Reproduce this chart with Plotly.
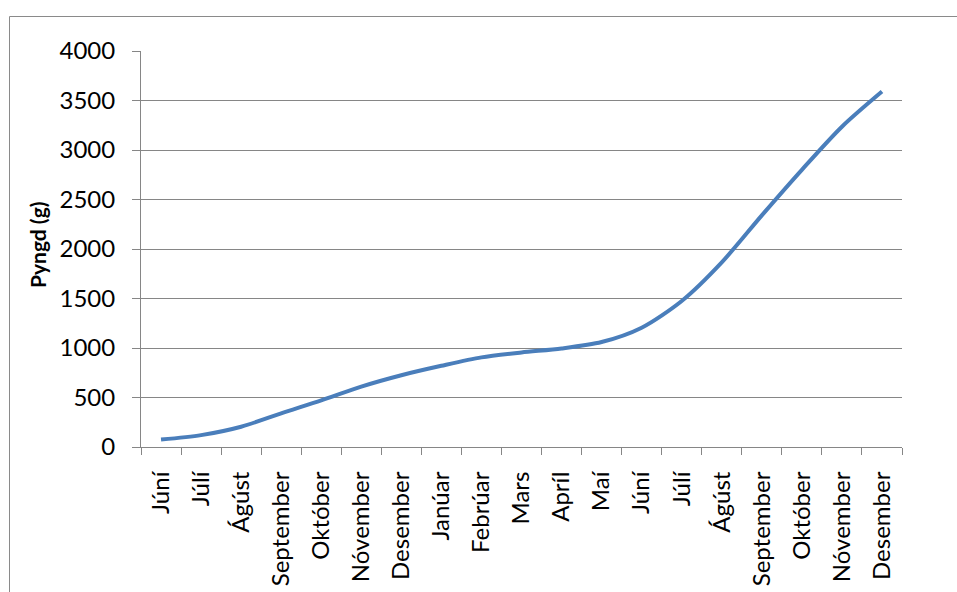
import plotly.graph_objects as go

months = ["Júní", "Júlí", "Ágúst", "September", "Október", "Nóvember", "Desember",
          "Janúar", "Febrúar", "Mars", "Apríl", "Maí", "Júní", "Júlí", "Ágúst",
          "September", "Október", "Nóvember", "Desember"]
weight_g = [75, 120, 205, 340, 470, 610, 725, 820, 905, 955, 995, 1060, 1205,
            1475, 1865, 2340, 2800, 3235, 3590]
y_ticks = [0, 500, 1000, 1500, 2000, 2500, 3000, 3500, 4000]
y_title = "Pyngd (g)"

W, H = 957, 592
L, R, T, B = 141, 55, 51, 145
pw, ph = W - L - R, H - T - B

def px_x(px):
    return (px - L) / pw

def px_y(py):
    return (H - B - py) / ph

pos = list(range(len(months)))
grey = "#868686"
font = "Lato, 'Open Sans', sans-serif"

fig = go.Figure()
fig.add_trace(go.Scatter(
    x=pos, y=weight_g, mode="lines",
    line=dict(color="#4A7EBB", width=4, shape="spline", smoothing=0.8),
    hoverinfo="skip", showlegend=False,
))

fig.update_layout(
    width=W, height=H,
    margin=dict(l=L, r=R, t=T, b=B, autoexpand=False),
    paper_bgcolor="white", plot_bgcolor="white",
    font=dict(family=font, size=24, color="black"),
    xaxis=dict(
        range=[-0.5, len(months) - 0.5],
        tickmode="array", tickvals=pos, ticktext=months,
        tickangle=-90, ticks="", ticklabelstandoff=14,
        showgrid=False, zeroline=False,
        showline=True, linecolor=grey, linewidth=1,
        minor=dict(ticks="outside", ticklen=7, tickcolor=grey, tickwidth=1,
                   tickmode="linear", tick0=-0.5, dtick=1, showgrid=False),
        tickfont=dict(family=font, size=24, color="black"),
        fixedrange=True,
    ),
    yaxis=dict(
        range=[0, 4000],
        tickmode="array", tickvals=y_ticks,
        ticks="outside", ticklen=8, tickcolor=grey, tickwidth=1,
        ticklabelstandoff=12,
        showgrid=True, gridcolor=grey, gridwidth=1,
        zeroline=False,
        showline=True, linecolor=grey, linewidth=1,
        tickfont=dict(family=font, size=24, color="black"),
        fixedrange=True,
    ),
    shapes=[dict(
        type="rect", xref="paper", yref="paper",
        x0=px_x(9.5), x1=px_x(W + 20), y0=px_y(H + 20), y1=px_y(16.5),
        line=dict(color="#8a8a8a", width=1), fillcolor="rgba(0,0,0,0)",
        layer="below",
    )],
    annotations=[dict(
        text="<b>" + y_title + "</b>", xref="paper", yref="paper",
        x=px_x(37), y=px_y(245), textangle=-90, showarrow=False,
        xanchor="center", yanchor="middle",
        font=dict(family=font, size=21, color="black"),
    )],
)

fig.write_html("out.html")
